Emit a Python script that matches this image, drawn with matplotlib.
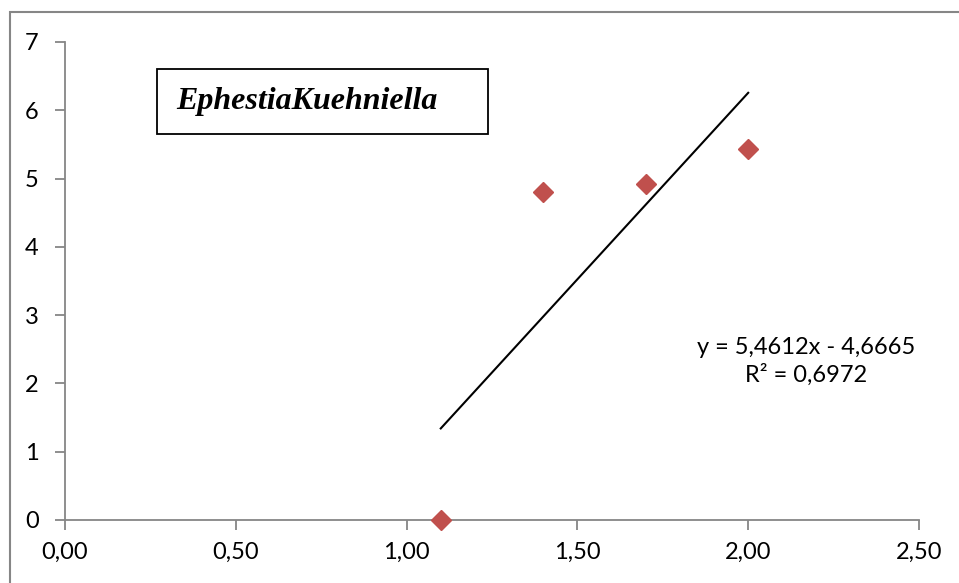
import matplotlib
matplotlib.use('Agg')
import matplotlib.pyplot as plt
from matplotlib.patches import Rectangle
import numpy as np

# données
x_vals = [1.10, 1.40, 1.70, 2.00]
y_vals = [0.0, 4.80, 4.92, 5.44]
pente = 5.4612
ordonnee = -4.6665
r2 = 0.6972
titre = 'EphestiaKuehniella'
x_ticks = [0.0, 0.5, 1.0, 1.5, 2.0, 2.5]
y_ticks = [0, 1, 2, 3, 4, 5, 6, 7]

gris = '#868686'
plt.rcParams['font.family'] = ['Lato', 'DejaVu Sans']

fig = plt.figure(figsize=(9.59, 5.83), dpi=100)
ax = fig.add_axes([65/959, 1 - 520/583, (919-65)/959, (520-42)/583])

# cadre extérieur
fig.patches.append(Rectangle((10/959, -0.05), 1.1, 1 - 12/583 + 0.05,
                             transform=fig.transFigure, fill=False,
                             edgecolor=gris, lw=1.5))

ax.plot(x_vals, y_vals, linestyle='none', marker='D', markersize=10,
        color='#C0504D', zorder=3, clip_on=False)

xl = np.array([min(x_vals), max(x_vals)])
ax.plot(xl, pente * xl + ordonnee, color='black', lw=1.5)

ax.set_xlim(0, 2.5)
ax.set_ylim(0, 7)
ax.set_xticks(x_ticks)
ax.set_xticklabels([f'{v:.2f}'.replace('.', ',') for v in x_ticks])
ax.set_yticks(y_ticks)
for s in ['top', 'right']:
    ax.spines[s].set_visible(False)
for s in ['left', 'bottom']:
    ax.spines[s].set_color(gris)
    ax.spines[s].set_linewidth(1.3)
ax.tick_params(axis='both', direction='out', length=7, width=1.3, color=gris,
               labelsize=17, labelcolor='black')
ax.tick_params(axis='x', pad=9)
ax.tick_params(axis='y', pad=12)

eq = f'y = {pente:.4f}x - {abs(ordonnee):.4f}'.replace('.', ',')
r2_txt = f'R² = {r2:.4f}'.replace('.', ',')
ax.text(2.169, 2.32, eq + '\n' + r2_txt, ha='center', va='center',
        fontsize=17, linespacing=1.3)

# encadré du titre
fig.patches.append(Rectangle((157/959, 1 - 134/583), (488-157)/959, (134-69)/583,
                             transform=fig.transFigure, fill=False,
                             edgecolor='black', lw=1.3))
fig.text(176/959, 1 - 102/583, titre, fontsize=23, fontweight='bold',
         fontstyle='italic', family='Liberation Serif', va='center', ha='left')

fig.savefig('out.png', dpi=100)
